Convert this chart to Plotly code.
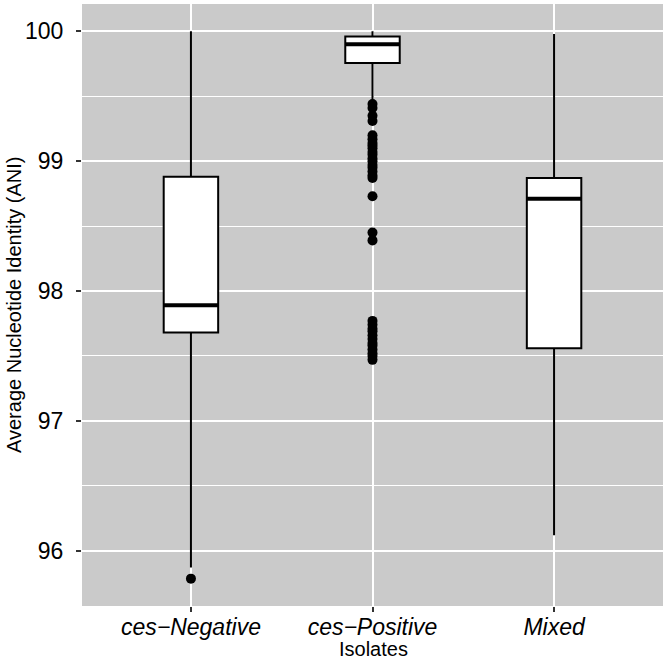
import plotly.graph_objects as go

# ---- data ----
categories = ["ces\u2212Negative", "ces\u2212Positive", "Mixed"]
q1 = [97.68, 99.756, 97.56]
medians = [97.89, 99.90, 98.71]
q3 = [98.88, 99.96, 98.87]
lower_whisker = [95.87, 99.47, 96.12]
upper_whisker = [100.0, 100.0, 99.98]

outliers_neg = [95.785]
outliers_pos = [99.44, 99.41, 99.35, 99.31,
                99.20, 99.17, 99.14, 99.12, 99.10, 99.07, 99.05, 99.02,
                99.00, 98.97, 98.95, 98.92, 98.89, 98.87,
                98.73, 98.45, 98.39,
                97.77, 97.74, 97.71, 97.69, 97.66, 97.63, 97.60, 97.58,
                97.55, 97.52, 97.50, 97.47]
outliers_mixed = []
outliers = [outliers_neg, outliers_pos, outliers_mixed]

y_ticks = [96, 97, 98, 99, 100]
x_title = "Isolates"
y_title = "Average Nucleotide Identity (ANI)"

box_width = 0.3
positions = list(range(1, len(categories) + 1))

fig = go.Figure()
for i, pos in enumerate(positions):
    fig.add_trace(go.Box(
        x=[pos], q1=[q1[i]], median=[medians[i]], q3=[q3[i]],
        lowerfence=[lower_whisker[i]], upperfence=[upper_whisker[i]],
        width=box_width, whiskerwidth=0, boxpoints=False,
        fillcolor="white", line=dict(color="black", width=2),
        showlegend=False, hoverinfo="skip",
    ))
    # thicker median line
    fig.add_trace(go.Scatter(
        x=[pos - box_width / 2, pos + box_width / 2],
        y=[medians[i], medians[i]], mode="lines",
        line=dict(color="black", width=4), showlegend=False, hoverinfo="skip",
    ))
    if outliers[i]:
        fig.add_trace(go.Scatter(
            x=[pos] * len(outliers[i]), y=outliers[i], mode="markers",
            marker=dict(color="black", size=10), showlegend=False,
        ))

all_vals = lower_whisker + upper_whisker + [v for o in outliers for v in o]
lo, hi = min(all_vals), max(all_vals)
pad = (hi - lo) * 0.05

font = "Liberation Sans, Arial, Helvetica, sans-serif"
L, R, T, B = 82, 3, 4, 56
W, H = 666, 662
pw, ph = W - L - R, H - T - B

fig.update_layout(
    width=W, height=H,
    margin=dict(l=L, r=R, t=T, b=B, autoexpand=False),
    paper_bgcolor="white", plot_bgcolor="rgb(202,202,202)",
    font=dict(family=font, color="black"),
    xaxis=dict(
        range=[0.4, len(categories) + 0.6], automargin=False,
        tickvals=positions, ticktext=["<i>%s</i>" % c for c in categories],
        tickfont=dict(size=23, color="black"),
        showgrid=True, gridcolor="white", gridwidth=2,
        zeroline=False, showline=False,
        ticks="outside", ticklen=5, tickwidth=2, tickcolor="#333333",
        ticklabelstandoff=-5,
    ),
    yaxis=dict(
        range=[lo - pad, hi + pad], automargin=False,
        tickvals=y_ticks,
        tickfont=dict(size=23, color="black"),
        showgrid=True, gridcolor="white", gridwidth=2,
        zeroline=False, showline=False,
        ticks="outside", ticklen=5, tickwidth=2, tickcolor="#333333",
        ticklabelstandoff=8,
        minor=dict(dtick=0.5, tick0=95.5, showgrid=True, gridcolor="white",
                   gridwidth=1, ticks=""),
    ),
    annotations=[
        dict(text=x_title, xref="paper", yref="paper",
             x=(373 - L) / pw, y=(H - B - 649) / ph,
             xanchor="center", yanchor="middle", showarrow=False,
             font=dict(size=20, color="black")),
        dict(text=y_title, xref="paper", yref="paper",
             x=(14 - L) / pw, y=0.5, textangle=-90,
             xanchor="center", yanchor="middle", showarrow=False,
             font=dict(size=20, color="black")),
    ],
)

fig.write_html("out.html", config={"displayModeBar": False},
               post_script="document.body.style.margin='0px';")
